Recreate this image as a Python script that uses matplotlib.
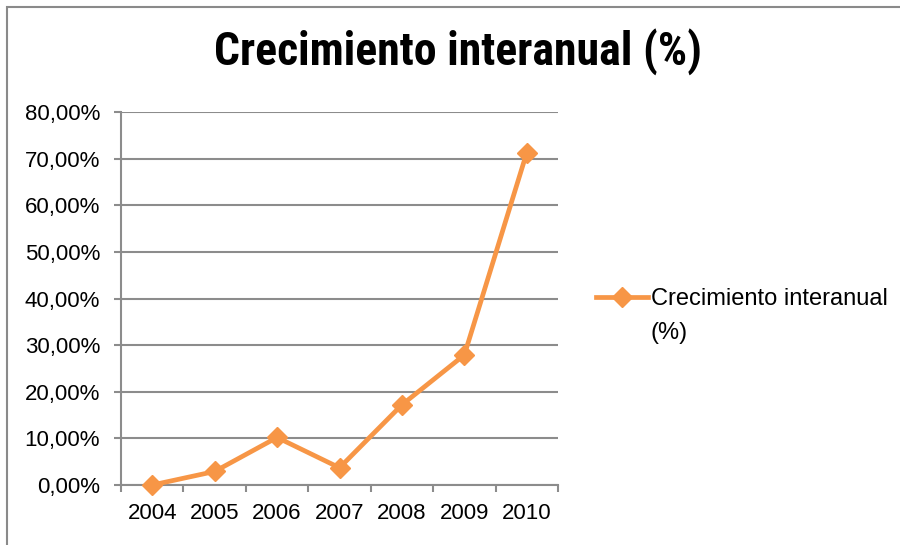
import matplotlib
matplotlib.use("Agg")
import matplotlib.pyplot as plt
from matplotlib.patches import Rectangle
from matplotlib.ticker import FixedLocator, FuncFormatter

years = ["2004", "2005", "2006", "2007", "2008", "2009", "2010"]
growth = [0.0, 2.9, 10.2, 3.7, 17.2, 27.9, 71.3]
series_name = "Crecimiento interanual (%)"
title = "Crecimiento interanual (%)"
y_ticks = [0, 10, 20, 30, 40, 50, 60, 70, 80]

W, H = 900, 545
fig = plt.figure(figsize=(W / 100, H / 100), dpi=100)
fig.patch.set_facecolor("white")

# outer chart border (Excel chart area)
fig.patches.append(Rectangle((7 / W, -0.1), 1.2, 1 - 7 / H + 0.1, transform=fig.transFigure,
                             fill=False, edgecolor="#8a8a8a", linewidth=1.5))

ax = fig.add_axes([121 / W, (H - 485) / H, (558 - 121) / W, (485 - 112) / H])
orange = "#F79646"
grid_c = "#8c8c8c"
lab_font = ["Liberation Sans", "DejaVu Sans"]

x = list(range(len(years)))
line, = ax.plot(x, growth, color=orange, linewidth=3.4, marker="D", markersize=10,
                markeredgecolor=orange, markerfacecolor=orange, clip_on=False, zorder=3)

ax.set_xlim(-0.5, len(years) - 0.5)
ax.set_ylim(0, 80)

ax.yaxis.set_major_locator(FixedLocator(y_ticks))
ax.yaxis.set_major_formatter(FuncFormatter(lambda v, p: f"{v:.2f}".replace(".", ",") + "%"))
ax.grid(axis="y", color=grid_c, linewidth=1.5)
ax.set_axisbelow(True)

ax.xaxis.set_major_locator(FixedLocator([i - 0.5 for i in range(len(years) + 1)]))
ax.xaxis.set_major_formatter(FuncFormatter(lambda v, p: ""))
ax.xaxis.set_minor_locator(FixedLocator(x))
ax.set_xticklabels(years, minor=True)

for s in ["top", "right"]:
    ax.spines[s].set_visible(False)
for s in ["left", "bottom"]:
    ax.spines[s].set_color(grid_c)
    ax.spines[s].set_linewidth(1.5)

ax.tick_params(axis="y", which="major", direction="out", length=5, width=1.5, color=grid_c,
               pad=10, labelsize=16)
ax.tick_params(axis="x", which="major", direction="out", length=5, width=1.5, color=grid_c)
ax.tick_params(axis="x", which="minor", length=0, pad=13, labelsize=16)
for t in ax.get_yticklabels() + ax.get_xticklabels(minor=True):
    t.set_fontfamily(lab_font)

fig.text(458 / W, 1 - 52 / H, title, ha="center", va="center", fontsize=33,
         fontweight="bold", fontstretch="condensed",
         family=["Roboto Condensed", "Open Sans Condensed", "Roboto", "Liberation Sans"])

leg = fig.legend(handles=[line], labels=[series_name.split(" (")[0]], loc="center left",
                 bbox_to_anchor=(596 / W, 1 - 299 / H), frameon=False, borderpad=0,
                 borderaxespad=0, handlelength=2.2, handletextpad=0.12,
                 prop={"family": lab_font, "size": 17})
fig.text(651 / W, 1 - 333 / H, "(%)", ha="left", va="center", fontsize=17, family=lab_font)

fig.savefig("out.png", dpi=100, facecolor="white")
